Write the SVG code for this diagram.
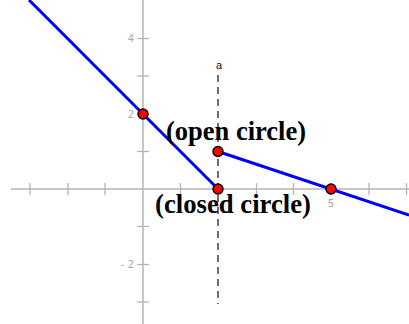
<svg xmlns="http://www.w3.org/2000/svg" width="409" height="324" viewBox="0 0 409 324">
<style>
.axis{stroke:#b4b4b4;stroke-width:1.5;fill:none}
.tick{stroke:#b4b4b4;stroke-width:1.3}
.tl{font-family:"DejaVu Sans","Liberation Sans",sans-serif;font-size:10px;fill:#a8a8a8}
.graph{stroke:#0000ff;stroke-width:3;fill:none;stroke-linecap:butt}
.pt{fill:#ff0000;stroke:#000;stroke-width:1.4}
.lbl{font-family:"Liberation Serif","Times New Roman",serif;font-weight:bold;font-size:28px;fill:#000}
</style>
<rect width="409" height="324" fill="#fff"/>
<g id="axes">
<line class="axis" x1="11" y1="189" x2="409" y2="189"/>
<line class="axis" x1="143" y1="0" x2="143" y2="324"/>
<g class="tick">
<line x1="30" y1="183" x2="30" y2="195"/>
<line x1="68" y1="183" x2="68" y2="195"/>
<line x1="105" y1="183" x2="105" y2="195"/>
<line x1="180.5" y1="183" x2="180.5" y2="195"/>
<line x1="256.5" y1="183" x2="256.5" y2="195"/>
<line x1="293.5" y1="183" x2="293.5" y2="195"/>
<line x1="331" y1="183" x2="331" y2="195"/>
<line x1="369" y1="183" x2="369" y2="195"/>
<line x1="406.5" y1="183" x2="406.5" y2="195"/>
<line x1="137" y1="38.5" x2="149" y2="38.5"/>
<line x1="137" y1="76" x2="149" y2="76"/>
<line x1="137" y1="114" x2="149" y2="114"/>
<line x1="137" y1="151.5" x2="149" y2="151.5"/>
<line x1="137" y1="226.5" x2="149" y2="226.5"/>
<line x1="137" y1="264.5" x2="149" y2="264.5"/>
<line x1="137" y1="302" x2="149" y2="302"/>
</g>
<text class="tl" x="134" y="42" text-anchor="end">4</text>
<text class="tl" x="134" y="117.5" text-anchor="end">2</text>
<text class="tl" x="134" y="268" text-anchor="end">- 2</text>
<text class="tl" x="331" y="207" text-anchor="middle">5</text>
</g>
<g id="asymptote">
<line x1="218" y1="75" x2="218" y2="304" stroke="#222" stroke-width="1.3" stroke-dasharray="7,5"/>
<text x="219" y="68.5" text-anchor="middle" font-family="'Liberation Sans',Arial,sans-serif" font-size="11" fill="#111">a</text>
</g>
<g id="connectors">
<polyline class="graph" points="29,0 143,114 218,189"/>
<polyline class="graph" points="218,151.5 409,215.2"/>
</g>
<g id="points">
<circle id="p1" class="pt" cx="143" cy="114" r="5"/>
<circle id="p2" class="pt" cx="218" cy="151.5" r="5"/>
<circle id="p3" class="pt" cx="218" cy="189" r="5"/>
<circle id="p4" class="pt" cx="331" cy="189" r="5"/>
</g>
<g id="labels">
<text class="lbl" x="166" y="139.5" textLength="140" lengthAdjust="spacingAndGlyphs">(open circle)</text>
<text class="lbl" x="155" y="212.5" textLength="156" lengthAdjust="spacingAndGlyphs">(closed circle)</text>
</g>
</svg>
